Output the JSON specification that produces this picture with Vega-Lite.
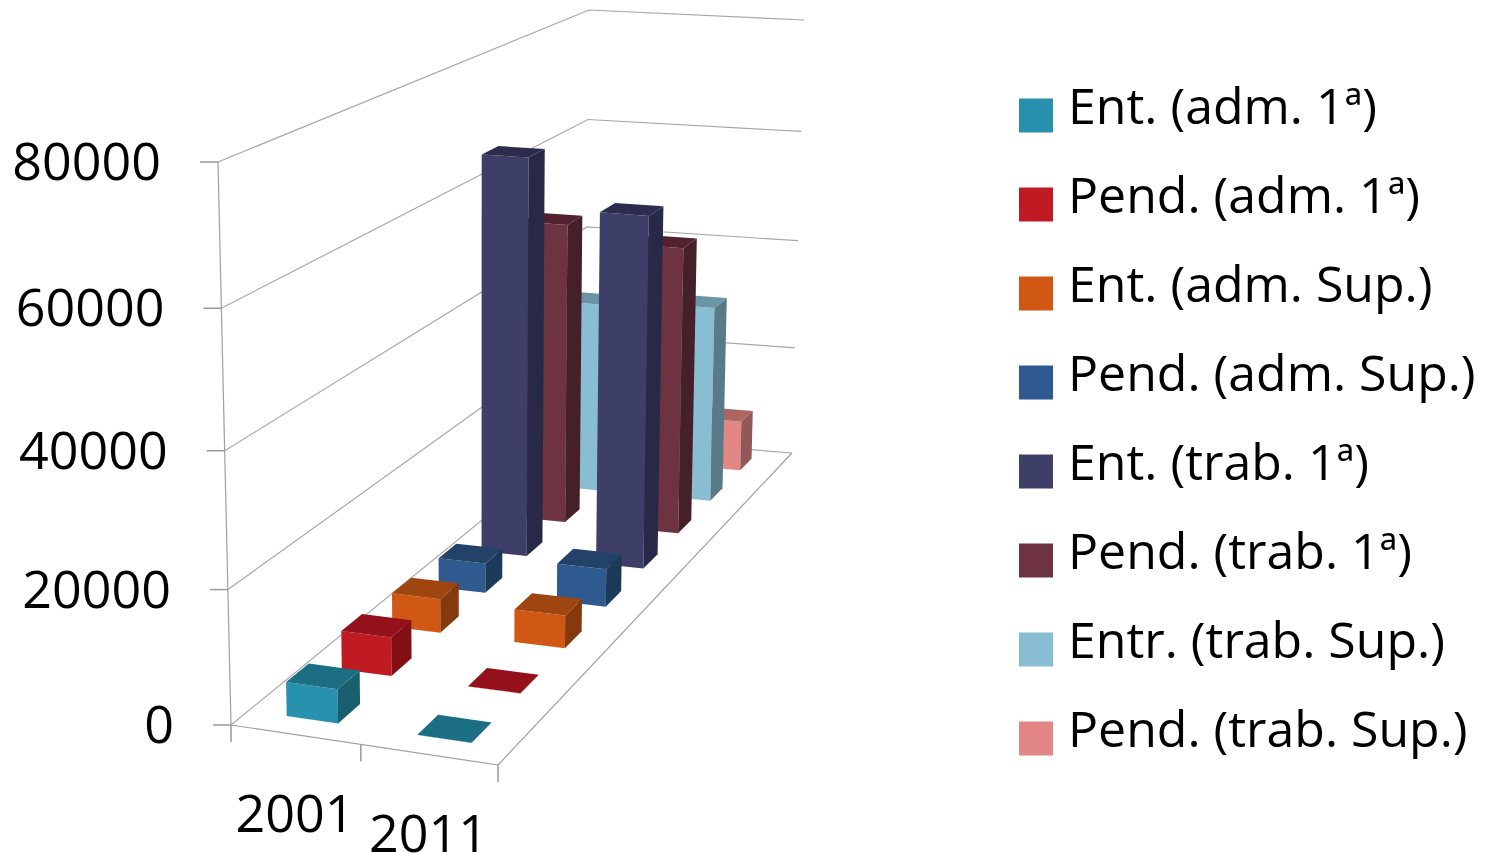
{"$schema":"https://vega.github.io/schema/vega-lite/v6.json","width":1491,"height":853,"autosize":{"type":"none"},"padding":0,"background":"white","config":{"view":{"stroke":null}},
"params":[{"name":"pg","value":-0.05376},{"name":"ph","value":0.36622},{"name":"pq","value":-0.05},{"name":"pa","value":240.23},{"name":"pb","value":568.24},{"name":"pc","value":231},{"name":"pd","value":-1.13},{"name":"pe","value":-129.33},{"name":"pf","value":725},{"name":"pm","value":-23.9},{"name":"pn","value":-571.1},{"name":"pr","value":-11.4},{"name":"prs","value":13.2}],
"layer":[
{"data":{"values":[{"value":0},{"value":20000},{"value":40000},{"value":60000},{"value":80000}]},
"transform":[{"calculate":"[0,1,2]","as":"node"},{"flatten":["node"]},{"calculate":"datum.node==2?1:0","as":"ps"},{"calculate":"datum.node==0?0:1","as":"pt"},{"calculate":"datum.value/80000","as":"pz"},
{"calculate":"1+pg*datum.ps+ph*datum.pt+pq*datum.pz","as":"W"},{"calculate":"(pa*datum.ps+pb*datum.pt+pc+datum.pz*pm)/datum.W","as":"px"},{"calculate":"(pd*datum.ps+pe*datum.pt+pf+datum.pz*(pn+pr*datum.pt+prs*datum.ps))/datum.W","as":"py"}],
"mark":{"type":"line","stroke":"#a8a8a8","strokeWidth":1.2},
"encoding":{"x":{"field":"px","type":"quantitative","axis":null,"scale":{"domain":[0,1491],"nice":false,"zero":false}},"y":{"field":"py","type":"quantitative","axis":null,"scale":{"domain":[0,853],"reverse":true,"nice":false,"zero":false}},"detail":{"field":"value"},"order":{"field":"node"}}},
{"data":{"values":[{"edge":"front"},{"edge":"right"},{"edge":"left"}]},
"transform":[{"calculate":"[0,1]","as":"node"},{"flatten":["node"]},{"calculate":"datum.edge=='front'?datum.node:(datum.edge=='right'?1:0)","as":"ps"},{"calculate":"datum.edge=='right'?datum.node:0","as":"pt"},{"calculate":"datum.edge=='left'?datum.node:0","as":"pz"},
{"calculate":"1+pg*datum.ps+ph*datum.pt+pq*datum.pz","as":"W"},{"calculate":"(pa*datum.ps+pb*datum.pt+pc+datum.pz*pm)/datum.W","as":"px"},{"calculate":"(pd*datum.ps+pe*datum.pt+pf+datum.pz*(pn+pr*datum.pt+prs*datum.ps))/datum.W","as":"py"}],
"mark":{"type":"line","stroke":"#a0a0a0","strokeWidth":1.2},
"encoding":{"x":{"field":"px","type":"quantitative","axis":null,"scale":{"domain":[0,1491],"nice":false,"zero":false}},"y":{"field":"py","type":"quantitative","axis":null,"scale":{"domain":[0,853],"reverse":true,"nice":false,"zero":false}},"detail":{"field":"edge"},"order":{"field":"node"}}},
{"data":{"values":[{"value":0},{"value":20000},{"value":40000},{"value":60000},{"value":80000}]},
"transform":[{"calculate":"datum.value/80000","as":"pz"},{"calculate":"1+pq*datum.pz","as":"W"},{"calculate":"(pc+datum.pz*pm)/datum.W","as":"px"},{"calculate":"(pf+datum.pz*pn)/datum.W","as":"py"},{"calculate":"datum.px-18","as":"px2"}],
"layer":[
{"mark":{"type":"rule","stroke":"#999999","strokeWidth":1.5},"encoding":{"x":{"field":"px2","type":"quantitative","axis":null,"scale":{"domain":[0,1491],"nice":false,"zero":false}},"x2":{"field":"px"},"y":{"field":"py","type":"quantitative","axis":null,"scale":{"domain":[0,853],"reverse":true,"nice":false,"zero":false}}}},
{"mark":{"type":"text","font":"Open Sans","fontSize":52,"align":"right","baseline":"middle","dx":-57,"dy":2,"color":"#000000"},"encoding":{"x":{"field":"px","type":"quantitative","axis":null,"scale":{"domain":[0,1491],"nice":false,"zero":false}},"y":{"field":"py","type":"quantitative","axis":null,"scale":{"domain":[0,853],"reverse":true,"nice":false,"zero":false}},"text":{"field":"value","type":"nominal"}}}
]},
{"data":{"values":[{"node":0},{"node":1},{"node":2}]},
"transform":[{"calculate":"datum.node/2","as":"ps"},{"calculate":"1+pg*datum.ps","as":"W"},{"calculate":"(pa*datum.ps+pc)/datum.W","as":"px"},{"calculate":"(pd*datum.ps+pf)/datum.W","as":"py"},{"calculate":"datum.py+17","as":"py2"}],
"mark":{"type":"rule","stroke":"#999999","strokeWidth":1.5},
"encoding":{"x":{"field":"px","type":"quantitative","axis":null,"scale":{"domain":[0,1491],"nice":false,"zero":false}},"y":{"field":"py","type":"quantitative","axis":null,"scale":{"domain":[0,853],"reverse":true,"nice":false,"zero":false}},"y2":{"field":"py2"}}},
{"data":{"values":[
{"series":"Pend. (trab. Sup.)","year":2001,"value":8000},{"series":"Pend. (trab. Sup.)","year":2011,"value":9100},
{"series":"Entr. (trab. Sup.)","year":2001,"value":33700},{"series":"Entr. (trab. Sup.)","year":2011,"value":34600},
{"series":"Pend. (trab. 1ª)","year":2001,"value":51700},{"series":"Pend. (trab. 1ª)","year":2011,"value":49200},
{"series":"Ent. (trab. 1ª)","year":2001,"value":66500},{"series":"Ent. (trab. 1ª)","year":2011,"value":58500},
{"series":"Pend. (adm. Sup.)","year":2001,"value":4900},{"series":"Pend. (adm. Sup.)","year":2011,"value":6200},
{"series":"Ent. (adm. Sup.)","year":2001,"value":5400},{"series":"Ent. (adm. Sup.)","year":2011,"value":5200},
{"series":"Pend. (adm. 1ª)","year":2001,"value":6000},{"series":"Pend. (adm. 1ª)","year":2011,"value":30},
{"series":"Ent. (adm. 1ª)","year":2001,"value":5100},{"series":"Ent. (adm. 1ª)","year":2011,"value":30}]},
"transform":[
{"calculate":"(datum.year==2001?0:1)*0.5+0.25","as":"sc"},
{"calculate":"(indexof(['Ent. (adm. 1ª)','Pend. (adm. 1ª)','Ent. (adm. Sup.)','Pend. (adm. Sup.)','Ent. (trab. 1ª)','Pend. (trab. 1ª)','Entr. (trab. Sup.)','Pend. (trab. Sup.)'],datum.series)+0.5)/8","as":"tc"},
{"calculate":"['front','side','top']","as":"face"},{"flatten":["face"]},
{"calculate":"[0,1,2,3]","as":"node"},{"flatten":["node"]},
{"calculate":"datum.series+'|'+datum.face","as":"key"},
{"calculate":"datum.face=='side'?datum.sc+0.1:((datum.node==0||datum.node==3)?datum.sc-0.1:datum.sc+0.1)","as":"ps"},
{"calculate":"datum.face=='front'?datum.tc-0.025:(datum.face=='side'?((datum.node==0||datum.node==3)?datum.tc-0.025:datum.tc+0.025):(datum.node<2?datum.tc-0.025:datum.tc+0.025))","as":"pt"},
{"calculate":"datum.face=='top'?datum.value/80000:(datum.node<2?0:datum.value/80000)","as":"pz"},
{"calculate":"1+pg*datum.ps+ph*datum.pt+pq*datum.pz","as":"W"},{"calculate":"(pa*datum.ps+pb*datum.pt+pc+datum.pz*pm)/datum.W","as":"px"},{"calculate":"(pd*datum.ps+pe*datum.pt+pf+datum.pz*(pn+pr*datum.pt+prs*datum.ps))/datum.W","as":"py"}],
"mark":{"type":"line","filled":true,"strokeWidth":0,"interpolate":"linear"},
"encoding":{"x":{"field":"px","type":"quantitative","axis":null,"scale":{"domain":[0,1491],"nice":false,"zero":false}},"y":{"field":"py","type":"quantitative","axis":null,"scale":{"domain":[0,853],"reverse":true,"nice":false,"zero":false}},
"detail":{"field":"year"},"order":{"field":"node"},
"fill":{"field":"key","type":"nominal","scale":{
"domain":["Ent. (adm. 1ª)|front","Ent. (adm. 1ª)|side","Ent. (adm. 1ª)|top","Pend. (adm. 1ª)|front","Pend. (adm. 1ª)|side","Pend. (adm. 1ª)|top","Ent. (adm. Sup.)|front","Ent. (adm. Sup.)|side","Ent. (adm. Sup.)|top","Pend. (adm. Sup.)|front","Pend. (adm. Sup.)|side","Pend. (adm. Sup.)|top","Ent. (trab. 1ª)|front","Ent. (trab. 1ª)|side","Ent. (trab. 1ª)|top","Pend. (trab. 1ª)|front","Pend. (trab. 1ª)|side","Pend. (trab. 1ª)|top","Entr. (trab. Sup.)|front","Entr. (trab. Sup.)|side","Entr. (trab. Sup.)|top","Pend. (trab. Sup.)|front","Pend. (trab. Sup.)|side","Pend. (trab. Sup.)|top"],
"range":["#2791AE","#195F6E","#1C6E82","#C01A22","#830F14","#94101A","#D05814","#85390C","#9E4510","#2F5A8F","#1E3A5A","#244268","#3E3F68","#282946","#2C2D4E","#6E3340","#452029","#52212D","#88BDD3","#597B88","#6A95A6","#E38786","#925757","#AE6665"]},
"legend":{"values":["Ent. (adm. 1ª)|front","Pend. (adm. 1ª)|front","Ent. (adm. Sup.)|front","Pend. (adm. Sup.)|front","Ent. (trab. 1ª)|front","Pend. (trab. 1ª)|front","Entr. (trab. Sup.)|front","Pend. (trab. Sup.)|front"],"labelExpr":"split(datum.label,'|')[0]","title":null,"orient":"none","legendX":1011,"legendY":83,"symbolType":"square","symbolSize":1156,"symbolStrokeWidth":0,"symbolOpacity":1,"labelFont":"Open Sans","labelFontSize":50,"labelColor":"#000000","labelLimit":0,"labelOffset":7,"rowPadding":24,"clipHeight":65,"encoding":{"labels":{"dy":{"value":-7}}}}}}},
{"data":{"values":[{"year":"2001"},{"year":"2011"}]},
"transform":[{"calculate":"datum.year=='2001'?0.25:0.75","as":"ps"},{"calculate":"1+pg*datum.ps","as":"W"},{"calculate":"(pa*datum.ps+pc)/datum.W","as":"px"},{"calculate":"(pd*datum.ps+pf)/datum.W","as":"py"}],
"mark":{"type":"text","font":"Open Sans","fontSize":52,"align":"center","baseline":"middle","dy":81,"color":"#000000"},
"encoding":{"x":{"field":"px","type":"quantitative","axis":null,"scale":{"domain":[0,1491],"nice":false,"zero":false}},"y":{"field":"py","type":"quantitative","axis":null,"scale":{"domain":[0,853],"reverse":true,"nice":false,"zero":false}},"text":{"field":"year","type":"nominal"}}}
]}
